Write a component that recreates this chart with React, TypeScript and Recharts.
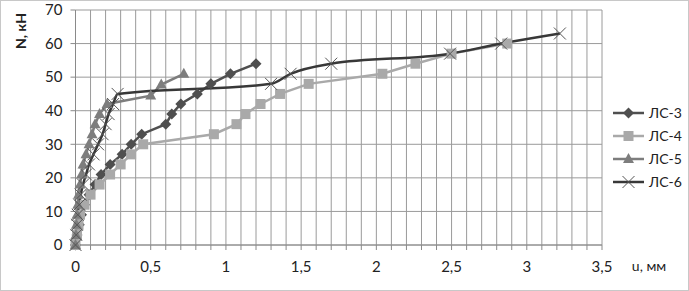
import { LineChart, Line, XAxis, YAxis, CartesianGrid } from "recharts";

// load N, kN (steps of 3)
const ls3N = [0, 3, 6, 9, 12, 15, 18, 21, 24, 27, 30, 33, 36, 39, 42, 45, 48, 51, 54];
const ls3U = [0, 0.01, 0.025, 0.04, 0.06, 0.09, 0.13, 0.17, 0.23, 0.31, 0.37, 0.44, 0.6, 0.64, 0.7, 0.81, 0.9, 1.03, 1.2];

const ls4N = [0, 3, 6, 9, 12, 15, 18, 21, 24, 27, 30, 33, 36, 39, 42, 45, 48, 51, 54, 57, 60];
const ls4U = [0, 0.01, 0.02, 0.03, 0.06, 0.1, 0.16, 0.23, 0.3, 0.37, 0.45, 0.92, 1.07, 1.13, 1.23, 1.36, 1.55, 2.04, 2.26, 2.5, 2.87];

const ls5N = [0, 3, 6, 9, 12, 15, 18, 21, 24, 27, 30, 33, 36, 39, 42, 44.5, 47.8, 51];
const ls5U = [0, 0.003, 0.006, 0.01, 0.015, 0.02, 0.03, 0.04, 0.05, 0.07, 0.09, 0.11, 0.13, 0.16, 0.21, 0.5, 0.57, 0.72];

const ls6N = [0, 3, 6, 9, 12, 15, 18, 21, 24, 27, 30, 33, 36, 39, 42, 45, 48, 51, 54, 57, 60, 63];
const ls6U = [0, 0.005, 0.01, 0.015, 0.025, 0.035, 0.05, 0.07, 0.09, 0.12, 0.15, 0.18, 0.2, 0.22, 0.25, 0.28, 1.3, 1.43, 1.7, 2.49, 2.83, 3.22];

const xTicks = [
  0, 0.1, 0.2, 0.3, 0.4, 0.5, 0.6, 0.7, 0.8, 0.9, 1, 1.1, 1.2, 1.3, 1.4, 1.5, 1.6, 1.7, 1.8,
  1.9, 2, 2.1, 2.2, 2.3, 2.4, 2.5, 2.6, 2.7, 2.8, 2.9, 3, 3.1, 3.2, 3.3, 3.4, 3.5,
];
const xLabels = [0, 0.5, 1, 1.5, 2, 2.5, 3, 3.5];
const yTicks = [0, 10, 20, 30, 40, 50, 60, 70];

const toPoints = (u: number[], n: number[]) => u.map((x, i) => ({ u: x, n: n[i] }));

const C3 = "#4f4f4f";
const C4 = "#a9a9a9";
const C5 = "#7d7d7d";
const C6 = "#383838";

const FONT = "Lato, 'Liberation Sans', sans-serif";

const Diamond = ({ cx, cy, fill }: any) => (
  <path d={`M${cx},${cy - 5.5}L${cx + 5.5},${cy}L${cx},${cy + 5.5}L${cx - 5.5},${cy}Z`} fill={fill} />
);
const Square = ({ cx, cy, fill }: any) => (
  <rect x={cx - 5} y={cy - 5} width={10} height={10} fill={fill} />
);
const Triangle = ({ cx, cy, fill }: any) => (
  <path d={`M${cx},${cy - 6}L${cx + 5.5},${cy + 4}L${cx - 5.5},${cy + 4}Z`} fill={fill} />
);
const Cross = ({ cx, cy, stroke }: any) => (
  <g stroke={stroke} strokeWidth={1}>
    <line x1={cx - 6} y1={cy - 6} x2={cx + 6} y2={cy + 6} />
    <line x1={cx - 6} y1={cy + 6} x2={cx + 6} y2={cy - 6} />
  </g>
);

const series = [
  { name: "ЛС-3", color: C3, Marker: Diamond },
  { name: "ЛС-4", color: C4, Marker: Square },
  { name: "ЛС-5", color: C5, Marker: Triangle },
  { name: "ЛС-6", color: C6, Marker: Cross },
];

const fmt = (v: number) => (xLabels.includes(v) ? String(v).replace(".", ",") : "");

export default function App() {
  return (
    <div
      style={{
        position: "absolute",
        left: 0,
        top: 0,
        width: 687,
        height: 289,
        border: "1px solid #c8c8c8",
        background: "#fff",
        fontFamily: FONT,
      }}
    >
      <div style={{ position: "absolute", left: -1, top: -1 }}>
        <LineChart width={689} height={291} margin={{ top: 10, right: 87, bottom: 16, left: 0 }}>
          <CartesianGrid stroke="#9a9a9a" strokeWidth={1} />
          <XAxis
            type="number"
            dataKey="u"
            domain={[0, 3.5]}
            ticks={xTicks}
            interval={0}
            tickFormatter={fmt}
            stroke="#8a8a8a"
            tickSize={5}
            tickMargin={11}
            height={30}
            tick={{ fill: "#222", fontSize: 15, fontFamily: FONT }}
            label={{
              content: () => (
                <text x={649} y={271} textAnchor="middle" fill="#222" fontSize={14} fontFamily={FONT}>
                  u, мм
                </text>
              ),
            }}
          />
          <YAxis
            type="number"
            dataKey="n"
            domain={[0, 70]}
            ticks={yTicks}
            interval={0}
            width={75.5}
            stroke="#8a8a8a"
            tickSize={5}
            tickMargin={8}
            tick={{ fill: "#222", fontSize: 15, fontFamily: FONT }}
            label={{
              content: () => (
                <text
                  x={22}
                  y={31}
                  transform="rotate(-90 22 31)"
                  textAnchor="middle"
                  dominantBaseline="middle"
                  fill="#222"
                  fontSize={14}
                  fontWeight="bold"
                  fontFamily={FONT}
                >
                  N, кН
                </text>
              ),
            }}
          />
          <Line
            data={toPoints(ls3U, ls3N)}
            dataKey="n"
            name="ЛС-3"
            type="linear"
            stroke={C3}
            strokeWidth={2.5}
            dot={(p: any) => <Diamond key={p.index} cx={p.cx} cy={p.cy} fill={C3} />}
            isAnimationActive={false}
          />
          <Line
            data={toPoints(ls4U, ls4N)}
            dataKey="n"
            name="ЛС-4"
            type="linear"
            stroke={C4}
            strokeWidth={2.5}
            dot={(p: any) => <Square key={p.index} cx={p.cx} cy={p.cy} fill={C4} />}
            isAnimationActive={false}
          />
          <Line
            data={toPoints(ls5U, ls5N)}
            dataKey="n"
            name="ЛС-5"
            type="linear"
            stroke={C5}
            strokeWidth={2.5}
            dot={(p: any) => <Triangle key={p.index} cx={p.cx} cy={p.cy} fill={C5} />}
            isAnimationActive={false}
          />
          <Line
            data={toPoints(ls6U, ls6N)}
            dataKey="n"
            name="ЛС-6"
            type="monotone"
            stroke={C6}
            strokeWidth={2.5}
            dot={(p: any) => <Cross key={p.index} cx={p.cx} cy={p.cy} stroke="#555" />}
            isAnimationActive={false}
          />
        </LineChart>
      </div>
      <div style={{ position: "absolute", left: 611, top: 100 }}>
        {series.map((s) => (
          <div key={s.name} style={{ display: "flex", alignItems: "center", height: 23 }}>
            <svg width={34} height={14}>
              <line x1={1} y1={7} x2={32} y2={7} stroke={s.color} strokeWidth={2.5} />
              <s.Marker cx={16.5} cy={7} fill={s.color} stroke="#555" />
            </svg>
            <span style={{ fontSize: 14, color: "#222", marginLeft: 3 }}>{s.name}</span>
          </div>
        ))}
      </div>
    </div>
  );
}
